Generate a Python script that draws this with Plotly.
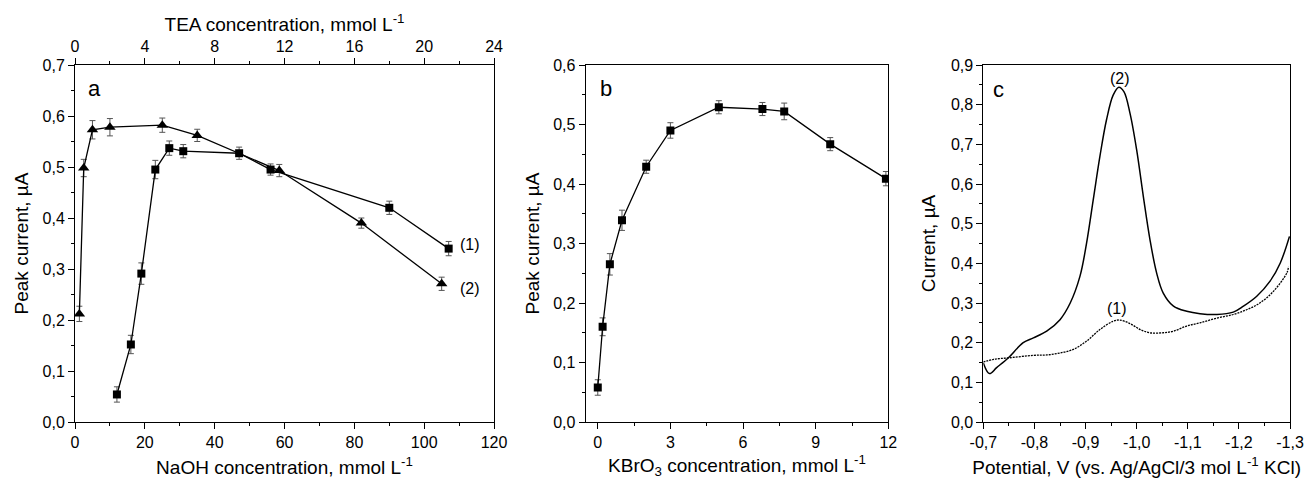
import plotly.graph_objects as go

# Panel a: NaOH (1, squares) and TEA (2, triangles)
naoh_conc = [12, 16, 19, 23, 27, 31, 47, 56, 90, 107]
naoh_current = [0.054, 0.152, 0.291, 0.495, 0.537, 0.531, 0.527, 0.495, 0.420, 0.340]
naoh_err = [0.015, 0.018, 0.021, 0.018, 0.014, 0.013, 0.012, 0.011, 0.013, 0.014]

tea_conc = [0.25, 0.5, 1, 2, 5, 7, 11.7, 16.4, 21]
tea_current = [0.212, 0.498, 0.573, 0.578, 0.582, 0.562, 0.493, 0.390, 0.271]
tea_err = [0.015, 0.017, 0.018, 0.017, 0.014, 0.012, 0.012, 0.010, 0.013]

# Panel b: KBrO3
kbro3_conc = [0, 0.2, 0.5, 1, 2, 3, 5, 6.8, 7.7, 9.6, 11.9]
kbro3_current = [0.058, 0.160, 0.265, 0.339, 0.429, 0.490, 0.529, 0.526, 0.522, 0.467, 0.409]
kbro3_err = [0.013, 0.015, 0.018, 0.017, 0.011, 0.013, 0.011, 0.011, 0.014, 0.011, 0.012]

# Panel c: voltammograms
pot_2 = [-0.700, -0.712, -0.726, -0.749, -0.778, -0.798, -0.824, -0.850, -0.870, -0.889,
         -0.902, -0.915, -0.928, -0.941, -0.954, -0.965, -0.975, -0.987, -1.000, -1.013,
         -1.026, -1.039, -1.052, -1.072, -1.098, -1.124, -1.157, -1.189, -1.209, -1.235,
         -1.261, -1.281, -1.299]
cur_2 = [0.149, 0.122, 0.137, 0.162, 0.200, 0.212, 0.229, 0.258, 0.300, 0.367,
         0.451, 0.560, 0.669, 0.762, 0.824, 0.844, 0.833, 0.778, 0.686, 0.569,
         0.460, 0.376, 0.325, 0.292, 0.279, 0.273, 0.271, 0.277, 0.292, 0.317,
         0.355, 0.401, 0.468]

pot_1 = [-0.700, -0.720, -0.752, -0.798, -0.824, -0.850, -0.876, -0.902, -0.928, -0.954,
         -0.967, -0.987, -1.007, -1.026, -1.052, -1.072, -1.098, -1.124, -1.157, -1.189,
         -1.215, -1.241, -1.268, -1.294, -1.297]
cur_1 = [0.151, 0.158, 0.162, 0.168, 0.169, 0.174, 0.183, 0.204, 0.233, 0.254,
         0.257, 0.248, 0.233, 0.225, 0.225, 0.229, 0.242, 0.250, 0.262, 0.271,
         0.283, 0.300, 0.330, 0.376, 0.392]

pot_ticks = [-0.7, -0.8, -0.9, -1.0, -1.1, -1.2, -1.3]
pot_labels = ['-0,7', '-0,8', '-0,9', '-1,0', '-1,1', '-1,2', '-1,3']

font = 'Liberation Sans, Arial, sans-serif'
err_style = dict(type='data', thickness=1, width=3, color='#555555')

fig = go.Figure()

# Kurven Panel a
fig.add_trace(go.Scatter(
    x=naoh_conc, y=naoh_current, mode='lines+markers',
    error_y=dict(array=naoh_err, **err_style),
    line=dict(color='black', width=1.3),
    marker=dict(symbol='square', size=8, color='black'),
    xaxis='x', yaxis='y'
))
fig.add_trace(go.Scatter(
    x=tea_conc, y=tea_current, mode='lines+markers',
    error_y=dict(array=tea_err, **err_style),
    line=dict(color='black', width=1.3),
    marker=dict(symbol='triangle-up', size=10, color='black'),
    xaxis='x4', yaxis='y'
))

# Panel b
fig.add_trace(go.Scatter(
    x=kbro3_conc, y=kbro3_current, mode='lines+markers',
    error_y=dict(array=kbro3_err, **err_style),
    line=dict(color='black', width=1.3),
    marker=dict(symbol='square', size=8, color='black'),
    xaxis='x2', yaxis='y2'
))

# Panel c
fig.add_trace(go.Scatter(
    x=pot_2, y=cur_2, mode='lines', line=dict(color='black', width=1.5, shape='spline'),
    xaxis='x3', yaxis='y3'
))
fig.add_trace(go.Scatter(
    x=pot_1, y=cur_1, mode='lines',
    line=dict(color='black', width=1.3, dash='2px,1px', shape='spline'),
    xaxis='x3', yaxis='y3'
))

axis_common = dict(
    showline=True, linecolor='black', linewidth=1, mirror=True,
    ticks='outside', ticklen=6, tickwidth=1, tickcolor='black',
    showgrid=False, zeroline=False, automargin=False,
    tickfont=dict(size=16, family=font, color='black'),
)
title_font = dict(size=19, family=font, color='black')


def minor(step):
    return dict(ticks='outside', ticklen=3, tickwidth=1, tickcolor='black', dtick=step, showgrid=False)


fig.update_layout(
    width=1306, height=479,
    margin=dict(l=75, r=16, t=65, b=57),
    paper_bgcolor='white', plot_bgcolor='white',
    separators=',.',
    showlegend=False,
    font=dict(family=font, color='black'),
    xaxis=dict(axis_common, domain=[0, 0.3449], range=[0, 120], dtick=20, minor=minor(10),
               mirror=False, anchor='y',
               title=dict(text='NaOH concentration, mmol L<sup>-1</sup>', font=title_font, standoff=10)),
    xaxis4=dict(axis_common, domain=[0, 0.3449], range=[0, 24], dtick=4, minor=minor(2),
                mirror=False, side='top', overlaying='x', anchor='y',
                title=dict(text='TEA concentration, mmol L<sup>-1</sup>', font=title_font, standoff=0)),
    yaxis=dict(axis_common, domain=[0, 1], range=[0, 0.7], dtick=0.1, tickformat='.1f',
               minor=minor(0.05), anchor='x',
               title=dict(text='Peak current, µA', font=title_font, standoff=8)),
    xaxis2=dict(axis_common, domain=[0.4203, 0.6694], range=[-0.5, 12], tick0=0, dtick=3,
                minor=minor(1.5), anchor='y2',
                title=dict(text='KBrO<sub>3</sub> concentration, mmol L<sup>-1</sup>', font=title_font, standoff=10)),
    yaxis2=dict(axis_common, domain=[0, 1], range=[0, 0.6], dtick=0.1, tickformat='.1f',
                minor=minor(0.05), anchor='x2',
                title=dict(text='Peak current, µA', font=title_font, standoff=8)),
    xaxis3=dict(axis_common, domain=[0.7476, 1.0], range=[-0.7, -1.3],
                tickmode='array', tickvals=pot_ticks, ticktext=pot_labels,
                minor=dict(minor(0.05), tick0=-0.7), anchor='y3',
                title=dict(text='Potential, V (vs. Ag/AgCl/3 mol L<sup>-1</sup> KCl)', font=title_font, standoff=10)),
    yaxis3=dict(axis_common, domain=[0, 1], range=[0, 0.9], dtick=0.1, tickformat='.1f',
                minor=minor(0.05), anchor='x3',
                title=dict(text='Current, µA', font=title_font, standoff=10)),
)

# Beschriftungen
labels = [
    ('x', 'y', 5.7, 0.653, 'a', 22),
    ('x', 'y', 113, 0.348, '(1)', 16),
    ('x', 'y', 113, 0.261, '(2)', 16),
    ('x2', 'y2', 0.35, 0.561, 'b', 22),
    ('x3', 'y3', -0.729, 0.837, 'c', 22),
    ('x3', 'y3', -0.967, 0.866, '(2)', 16),
    ('x3', 'y3', -0.961, 0.285, '(1)', 16),
]
for xr, yr, x, y, text, size in labels:
    fig.add_annotation(x=x, y=y, xref=xr, yref=yr, text=text, showarrow=False,
                       font=dict(size=size, family=font, color='black'))

# Seitenrand entfernen, damit die Grafik genau ins Fenster passt
fig.write_html("out.html", config={'displayModeBar': False},
               post_script="document.body.style.margin='0';")
